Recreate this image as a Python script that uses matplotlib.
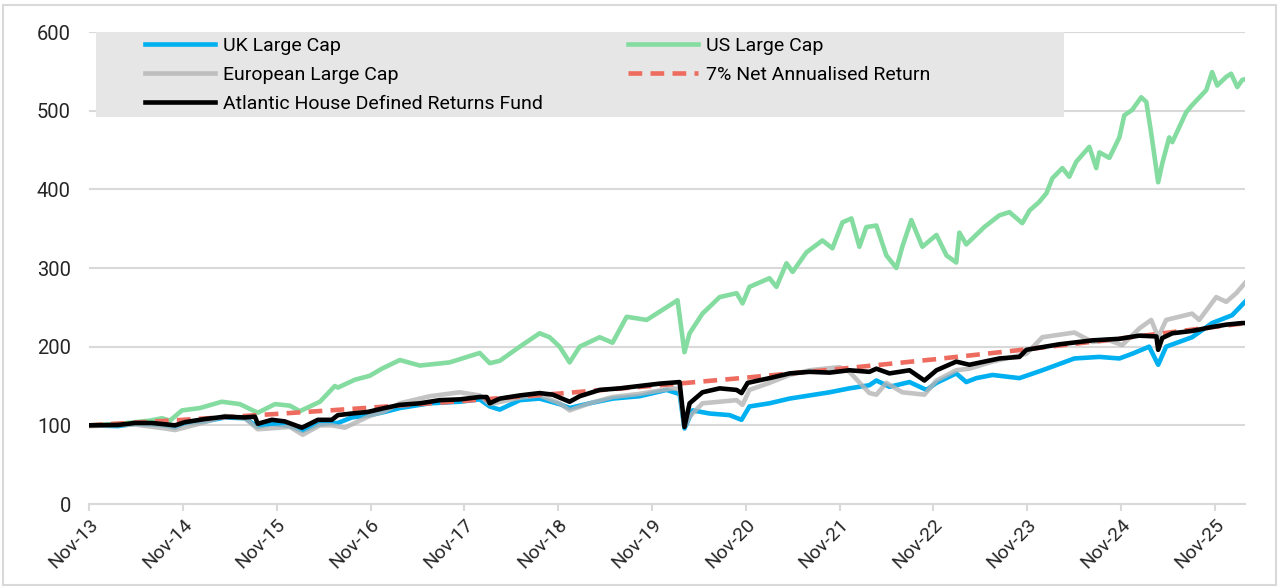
import numpy as np
import pandas as pd
import matplotlib
matplotlib.use("Agg")
import matplotlib.pyplot as plt
import matplotlib.dates as mdates
from matplotlib.patches import Rectangle

plt.rcParams["font.family"] = ["Roboto", "DejaVu Sans"]

# US Large Cap (green)
us_dates = ["2013-11-01", "2014-03-02", "2014-06-26", "2014-08-12", "2014-09-12", "2014-10-29",
            "2015-01-07", "2015-04-02", "2015-06-11", "2015-08-20", "2015-10-26", "2015-12-23",
            "2016-01-31", "2016-04-18", "2016-06-15", "2016-06-27", "2016-09-01", "2016-10-29",
            "2016-12-15", "2017-02-23", "2017-05-12", "2017-09-05", "2017-12-31", "2018-02-08",
            "2018-03-19", "2018-06-05", "2018-08-21", "2018-09-29", "2018-11-07", "2018-12-16",
            "2019-01-24", "2019-04-12", "2019-06-01", "2019-07-26", "2019-10-12", "2020-01-21",
            "2020-02-09", "2020-03-07", "2020-03-27", "2020-05-16", "2020-07-22", "2020-09-26",
            "2020-10-19", "2020-11-15", "2021-02-01", "2021-02-28", "2021-04-08", "2021-05-02",
            "2021-06-25", "2021-08-26", "2021-10-04", "2021-11-12", "2021-12-17", "2022-01-17",
            "2022-02-13", "2022-03-24", "2022-05-02", "2022-06-10", "2022-07-03", "2022-08-07",
            "2022-09-19", "2022-11-13", "2022-12-22", "2023-01-29", "2023-02-10", "2023-03-09",
            "2023-05-18", "2023-07-16", "2023-08-24", "2023-10-13", "2023-11-10", "2023-12-18",
            "2024-01-15", "2024-02-07", "2024-03-17", "2024-04-13", "2024-05-10", "2024-06-30",
            "2024-07-27", "2024-08-08", "2024-09-16", "2024-10-25", "2024-11-13", "2024-12-14",
            "2025-01-18", "2025-02-07", "2025-02-26", "2025-03-25", "2025-04-10", "2025-05-07",
            "2025-05-19", "2025-07-12", "2025-08-04", "2025-09-28", "2025-10-21", "2025-11-10",
            "2025-12-15", "2026-01-03", "2026-01-27", "2026-02-15", "2026-02-26"]
us_vals = [100, 102, 106, 109, 106, 119,
           122, 130, 127, 116, 127, 125,
           118, 130, 150, 148, 158, 163,
           172, 183, 176, 180, 192, 179,
           182, 200, 217, 212, 200, 180,
           200, 212, 205, 238, 234, 255,
           259, 193, 217, 242, 263, 268,
           255, 276, 287, 276, 306, 295,
           320, 335, 325, 358, 363, 327,
           352, 354, 316, 300, 327, 361,
           327, 342, 316, 307, 345, 330,
           352, 367, 371, 357, 373, 384,
           395, 414, 427, 416, 435, 454,
           427, 447, 440, 466, 494, 501,
           517, 511, 471, 409, 433, 466,
           460, 498, 507, 526, 549, 532,
           543, 547, 530, 539, 540]

# UK Large Cap (blue)
uk_dates = ["2013-11-01", "2014-02-22", "2014-04-29", "2014-08-24", "2014-10-02", "2014-11-09",
            "2015-01-26", "2015-04-14", "2015-07-01", "2015-08-20", "2015-10-14", "2015-12-23",
            "2016-02-11", "2016-04-10", "2016-05-26", "2016-06-27", "2016-08-20", "2016-10-29",
            "2016-12-26", "2017-02-23", "2017-06-20", "2017-10-14", "2017-12-31", "2018-02-08",
            "2018-03-19", "2018-06-05", "2018-08-21", "2018-11-07", "2018-12-16", "2019-03-04",
            "2019-06-01", "2019-09-14", "2019-12-28", "2020-02-05", "2020-02-17", "2020-03-07",
            "2020-04-08", "2020-06-13", "2020-08-29", "2020-10-15", "2020-11-15", "2021-02-01",
            "2021-04-20", "2021-07-07", "2021-09-23", "2021-12-09", "2022-02-25", "2022-03-24",
            "2022-05-14", "2022-07-31", "2022-10-05", "2022-11-13", "2023-01-29", "2023-03-09",
            "2023-04-17", "2023-06-19", "2023-10-02", "2023-12-30", "2024-05-03", "2024-08-08",
            "2024-10-25", "2024-12-14", "2025-02-18", "2025-03-25", "2025-04-25", "2025-08-04",
            "2025-10-21", "2026-01-07", "2026-02-26"]
uk_vals = [100, 99, 102, 100, 97, 103,
           105, 110, 109, 98, 102, 99,
           93, 101, 103, 103, 110, 113,
           117, 122, 128, 130, 133, 124,
           120, 132, 134, 127, 122, 128,
           134, 137, 145, 141, 140, 96,
           119, 115, 113, 107, 124, 128,
           134, 138, 142, 147, 151, 157,
           149, 155, 145, 154, 166, 155,
           160, 164, 160, 170, 185, 187,
           185, 191, 200, 177, 200, 212,
           230, 240, 257]

# European Large Cap (grey)
eu_dates = ["2013-11-01", "2014-04-29", "2014-08-24", "2014-10-02", "2015-01-26", "2015-04-14",
            "2015-07-01", "2015-08-20", "2015-12-23", "2016-02-11", "2016-04-18", "2016-06-03",
            "2016-07-24", "2016-10-29", "2016-12-26", "2017-02-23", "2017-06-20", "2017-10-14",
            "2017-12-31", "2018-02-08", "2018-06-05", "2018-08-21", "2018-11-07", "2018-12-16",
            "2019-03-04", "2019-06-01", "2019-09-14", "2020-01-21", "2020-02-17", "2020-03-07",
            "2020-03-27", "2020-05-16", "2020-09-26", "2020-10-19", "2020-11-15", "2021-02-01",
            "2021-04-20", "2021-07-07", "2021-10-31", "2021-12-09", "2022-02-25", "2022-03-24",
            "2022-05-02", "2022-07-03", "2022-09-27", "2022-11-13", "2023-01-29", "2023-03-21",
            "2023-06-19", "2023-10-29", "2023-12-30", "2024-05-03", "2024-07-12", "2024-09-16",
            "2024-11-05", "2025-01-10", "2025-02-26", "2025-03-25", "2025-04-25", "2025-08-04",
            "2025-09-01", "2025-11-06", "2025-12-15", "2026-01-23", "2026-02-26"]
eu_vals = [99, 101, 96, 94, 104, 112,
           109, 95, 98, 88, 100, 100,
           97, 112, 118, 128, 137, 142,
           138, 127, 135, 138, 128, 119,
           128, 136, 140, 147, 146, 98,
           111, 128, 132, 126, 145, 154,
           164, 170, 174, 168, 141, 139,
           154, 142, 139, 157, 170, 172,
           181, 191, 212, 218, 206, 208,
           202, 223, 234, 212, 234, 242,
           234, 263, 257, 268, 281]

# Atlantic House Defined Returns Fund (black)
ah_dates = ["2013-11-01", "2014-02-22", "2014-04-29", "2014-07-04", "2014-10-02", "2014-11-09",
            "2015-01-26", "2015-04-14", "2015-07-01", "2015-08-09", "2015-08-20", "2015-10-14",
            "2015-12-03", "2016-02-08", "2016-04-10", "2016-06-03", "2016-06-27", "2016-08-20",
            "2016-10-21", "2016-12-26", "2017-02-23", "2017-05-12", "2017-07-28", "2017-10-14",
            "2017-12-31", "2018-01-27", "2018-02-08", "2018-03-19", "2018-06-05", "2018-08-21",
            "2018-10-11", "2018-12-16", "2019-01-24", "2019-04-12", "2019-06-29", "2019-09-14",
            "2019-12-01", "2020-02-17", "2020-03-07", "2020-03-27", "2020-05-16", "2020-07-22",
            "2020-09-26", "2020-10-15", "2020-11-08", "2021-02-01", "2021-04-20", "2021-07-07",
            "2021-09-23", "2021-12-09", "2022-02-25", "2022-03-24", "2022-05-14", "2022-07-31",
            "2022-09-27", "2022-11-13", "2023-01-29", "2023-03-21", "2023-07-16", "2023-10-02",
            "2023-10-29", "2024-03-05", "2024-07-12", "2024-10-25", "2025-01-10", "2025-03-18",
            "2025-03-25", "2025-04-10", "2025-05-19", "2025-08-04", "2025-10-21", "2025-12-15",
            "2026-02-15", "2026-02-26"]
ah_vals = [100, 100.5, 103, 103, 100, 104,
           108, 111, 110, 111, 102, 107,
           105, 97, 107, 107, 113, 115,
           117, 122, 126, 128, 132, 133,
           136, 136, 128, 134, 138, 141,
           139, 130, 137, 145, 147, 150,
           153, 155, 98, 128, 142, 147,
           145, 141, 154, 160, 166, 168,
           167, 170, 168, 172, 166, 170,
           157, 170, 181, 177, 185, 187,
           196, 203, 208, 210, 214, 213,
           196, 211, 217, 220, 225, 228,
           230, 230]

# 7% net annualised return (red dashed)
ret_dates = ["2013-11-01", "2014-11-01", "2015-11-01", "2016-11-01", "2017-11-01", "2018-11-01",
             "2019-11-01", "2020-11-01", "2021-11-01", "2022-11-01", "2023-11-01", "2024-11-01",
             "2025-11-01", "2026-02-26"]
ret_vals = [100, 107, 114.5, 122.5, 131.1, 140.3, 150.1, 160.6, 171.8, 183.8, 196.7, 210.5,
            225.2, 229.8]

tick_dates = ["2013-11-01", "2014-11-01", "2015-11-01", "2016-11-01", "2017-11-01", "2018-11-01",
              "2019-11-01", "2020-11-01", "2021-11-01", "2022-11-01", "2023-11-01", "2024-11-01",
              "2025-11-01"]
x_end = "2026-02-26"

d = pd.to_datetime

fig = plt.figure(figsize=(12.8, 5.87), dpi=100)
ax = fig.add_axes([89 / 1280, 83 / 587, 1156 / 1280, 472 / 587])

# rahmen um die ganze grafik
fig.patches.append(Rectangle((3 / 1280, 2 / 587), 1273 / 1280, 580 / 587, transform=fig.transFigure,
                             fill=False, edgecolor="#d9d9d9", linewidth=1.5))

lw = 3.3
l_uk, = ax.plot(d(uk_dates), uk_vals, color="#00b0f0", lw=lw, zorder=3, label="UK Large Cap")
l_eu, = ax.plot(d(eu_dates), eu_vals, color="#b4b4b4", lw=lw, alpha=0.8, zorder=3.2,
                label="European Large Cap")
l_us, = ax.plot(d(us_dates), us_vals, color="#84dca0", lw=lw, zorder=3.4, label="US Large Cap")
l_ret, = ax.plot(d(ret_dates), ret_vals, color="#ee6b5f", lw=lw, ls=(0, (3, 1.8)), zorder=3.6,
                 label="7% Net Annualised Return")
l_ah, = ax.plot(d(ah_dates), ah_vals, color="black", lw=lw, zorder=3.8,
                label="Atlantic House Defined Returns Fund")

ax.set_ylim(0, 600)
ax.set_xlim(d("2013-11-01"), d(x_end))
ax.set_yticks(np.arange(0, 601, 100))
ax.set_xticks(d(tick_dates))
ax.xaxis.set_major_formatter(mdates.DateFormatter("%b-%y"))
ax.grid(axis="y", color="#d9d9d9", lw=1.5)
ax.set_axisbelow(True)
for s in ["top", "right", "left"]:
    ax.spines[s].set_visible(False)
ax.spines["bottom"].set_color("#d9d9d9")
ax.spines["bottom"].set_linewidth(1.5)
ax.tick_params(axis="y", length=0, pad=13, labelsize=14.5, labelcolor="#262626")
ax.tick_params(axis="x", length=5, width=1.5, color="#d9d9d9", labelsize=14, labelcolor="#262626", pad=3)
for t in ax.get_xticklabels():
    t.set_rotation(45)
    t.set_ha("right")
    t.set_rotation_mode("anchor")

# grauer hintergrund der legende
ax.add_patch(Rectangle((7 / 1156, (504 - 117) / 472), 968 / 1156, 85 / 472, transform=ax.transAxes,
                       facecolor="#e6e6e6", edgecolor="none", zorder=1))

leg_kw = dict(frameon=False, loc="upper left", fontsize=14, handlelength=3.6, handletextpad=0.4,
              labelspacing=0.57, borderpad=0, borderaxespad=0)
leg1 = ax.legend(handles=[l_uk, l_eu, l_ah], bbox_to_anchor=((145 - 89) / 1156, (504 - 37) / 472), **leg_kw)
ax.add_artist(leg1)
ax.legend(handles=[l_us, l_ret], bbox_to_anchor=((628 - 89) / 1156, (504 - 37) / 472), **leg_kw)

fig.savefig("out.png", dpi=100)
